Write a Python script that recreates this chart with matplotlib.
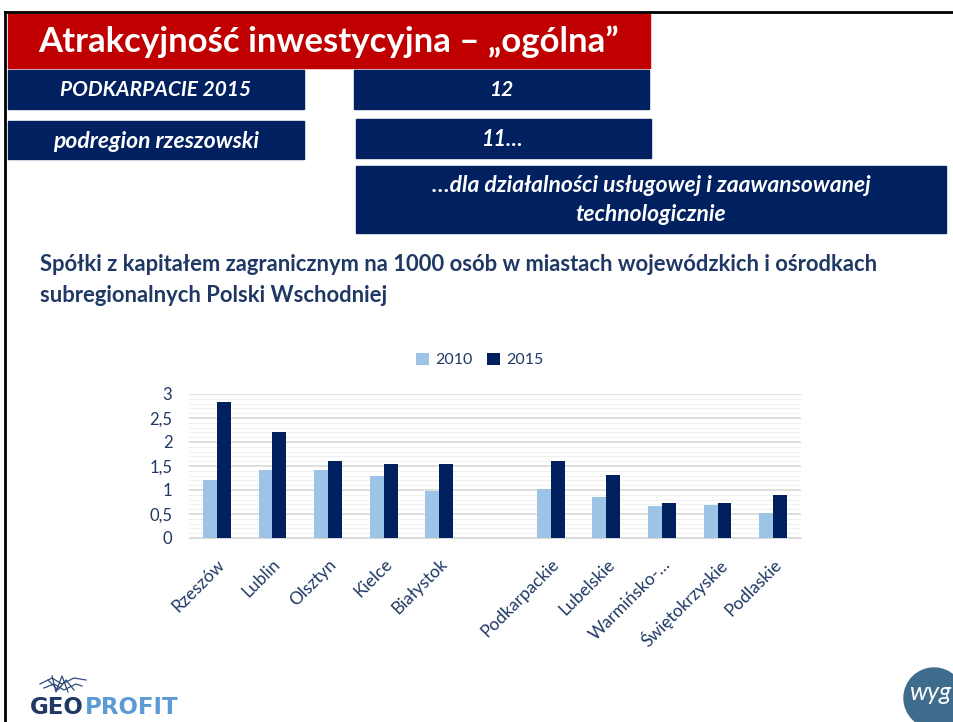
import numpy as np
import matplotlib
matplotlib.use("Agg")
import matplotlib.pyplot as plt
import matplotlib.transforms as mtrans
from matplotlib.patches import Rectangle, Ellipse

plt.rcParams['font.family'] = ['Lato', 'DejaVu Sans']

categories = ["Rzeszów", "Lublin", "Olsztyn", "Kielce", "Białystok", "",
              "Podkarpackie", "Lubelskie", "Warmińsko-…", "Świętokrzyskie", "Podlaskie"]
values_2010 = [1.21, 1.42, 1.42, 1.29, 0.98, np.nan, 1.02, 0.85, 0.67, 0.69, 0.53]
values_2015 = [2.83, 2.21, 1.61, 1.55, 1.54, np.nan, 1.61, 1.31, 0.72, 0.72, 0.90]
series_names = ["2010", "2015"]
yticks = [0, 0.5, 1, 1.5, 2, 2.5, 3]
ytick_labels = ["0", "0,5", "1", "1,5", "2", "2,5", "3"]

NAVY = "#002060"
RED = "#C00000"
LIGHT = "#9DC3E6"
TXT = "#1F3864"

W, H = 954, 722
fig = plt.figure(figsize=(W / 100, H / 100), dpi=100)

def px_rect(x0, y0, x1, y1, color):
    fig.patches.append(Rectangle((x0 / W, 1 - y1 / H), (x1 - x0) / W, (y1 - y0) / H,
                                 transform=fig.transFigure, color=color, zorder=1))

def px_text(x, y, s, **kw):
    return fig.text(x / W, 1 - y / H, s, **kw)

def px_line(xs, ys, **kw):
    fig.add_artist(plt.Line2D([v / W for v in xs], [1 - v / H for v in ys], **kw))

# slide frame
px_line([5, W], [12, 12], color="black", lw=2)
px_line([5, 5], [12, H], color="black", lw=2)

# header boxes
box = dict(color="white", fontweight="bold", fontstyle="italic", ha="center", va="center")
px_rect(8, 14, 650, 68, RED)
px_text(38, 42, "Atrakcyjność inwestycyjna – „ogólna”", color="white",
        fontsize=25, fontweight="bold", va="center", ha="left")

px_rect(8, 70, 304, 109, NAVY)
px_text(156, 90, "PODKARPACIE 2015", fontsize=15, **box)
px_rect(354, 70, 649, 109, NAVY)
px_text(501, 90, "12", fontsize=15, **box)
px_rect(8, 121, 304, 159, NAVY)
px_text(156, 141, "podregion rzeszowski", fontsize=16.5, **box)
px_rect(356, 119, 651, 158, NAVY)
px_text(503, 139, "11…", fontsize=15.5, **box)
px_rect(356, 166, 946, 233, NAVY)
px_text(651, 200, "…dla działalności usługowej i zaawansowanej\ntechnologicznie",
        fontsize=16.5, linespacing=1.45, **box)

# chart title
px_text(40, 264, "Spółki z kapitałem zagranicznym na 1000 osób w miastach wojewódzkich i ośrodkach",
        color=TXT, fontsize=15.8, fontweight="bold", va="center", ha="left")
px_text(40, 295, "subregionalnych Polski Wschodniej",
        color=TXT, fontsize=15.8, fontweight="bold", va="center", ha="left")

# chart
ax = fig.add_axes([189 / W, 1 - 538 / H, (801 - 189) / W, (538 - 394) / H])
x = np.arange(len(categories))
w = 0.25
ax.bar(x - w / 2, values_2010, width=w, color=LIGHT, label=series_names[0], zorder=3)
ax.bar(x + w / 2, values_2015, width=w, color=NAVY, label=series_names[1], zorder=3)
ax.set_xlim(-0.5, len(categories) - 0.5)
ax.set_ylim(0, 3)
ax.set_yticks(yticks)
ax.set_yticklabels(ytick_labels, color=TXT, fontsize=12)
ax.set_yticks(np.arange(0, 3.01, 0.1), minor=True)
ax.grid(axis="y", which="major", color="#D9D9D9", lw=1.2, zorder=0)
ax.grid(axis="y", which="minor", color="#F0F0F0", lw=0.8, zorder=0)
ax.set_xticks(x)
ax.set_xticklabels(categories, rotation=45, ha="right", rotation_mode="anchor",
                   color=TXT, fontsize=12.5)
shift = mtrans.ScaledTranslation(10 / 100, 0, fig.dpi_scale_trans)
for lab in ax.get_xticklabels():
    lab.set_transform(lab.get_transform() + shift)
ax.tick_params(axis="both", which="both", length=0)
ax.tick_params(axis="y", pad=12)
ax.tick_params(axis="x", pad=13)
for s in ["top", "right", "left"]:
    ax.spines[s].set_visible(False)
ax.spines["bottom"].set_color("#D9D9D9")

fig.legend(loc="center", bbox_to_anchor=(480 / W, 1 - 360 / H), ncol=2, frameon=False,
           fontsize=11.5, labelcolor=TXT, handlelength=0.8, handleheight=0.8,
           columnspacing=0.9, handletextpad=0.4)

# GEOPROFIT logo
geo = px_text(30, 707, "GEO", color=TXT, fontsize=16.5, fontweight="bold",
              family="DejaVu Sans", va="center", ha="left")
fig.canvas.draw()
bb = geo.get_window_extent()
fig.text((bb.x1 + 1) / W, 1 - 707 / H, "PROFIT", color="#5B9BD5", fontsize=16.5,
         fontweight="bold", family="DejaVu Sans", va="center", ha="left")
net = dict(color="#2F4A7A", lw=0.9)
px_line([40, 52, 62, 74, 86], [684, 678, 684, 678, 680], **net)
px_line([44, 54, 64, 76, 82], [688, 684, 690, 684, 686], **net)
px_line([48, 58, 66, 74], [680, 690, 680, 690], **net)
px_line([52, 56, 62, 68], [676, 692, 676, 692], **net)

# wyg logo
fig.patches.append(Ellipse((934 / W, 1 - 698 / H), 60 / W, 60 / H,
                           transform=fig.transFigure, color="#3F6C8C"))
px_text(930, 692, "wyg", color="white", fontsize=18, fontstyle="italic", ha="center", va="center")

fig.savefig("out.png", dpi=100)
